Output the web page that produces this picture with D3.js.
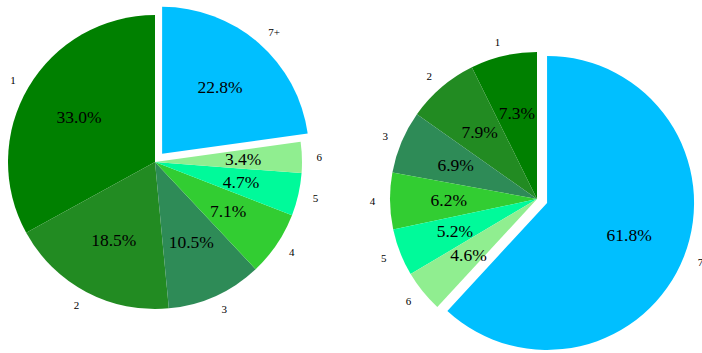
<!DOCTYPE html>
<html>
<head>
<meta charset="utf-8">
<script src="https://cdn.jsdelivr.net/npm/d3@7"></script>
<style>
  html, body { margin: 0; padding: 0; background: #fff; }
  svg { display: block; }
</style>
</head>
<body>
<svg id="chart" width="702" height="353"></svg>
<script>
// Share of households by size (percent)
const leftCategories = ["1", "2", "3", "4", "5", "6", "7+"];
const leftValues = [33.0, 18.5, 10.5, 7.1, 4.7, 3.4, 22.8];
const leftExplode = [0, 0, 0, 0, 0, 0, 1];

const rightCategories = ["1", "2", "3", "4", "5", "6", "7"];
const rightValues = [7.3, 7.9, 6.9, 6.2, 5.2, 4.6, 61.8];
const rightExplode = [0, 0, 0, 0, 0, 0, 1];

const sliceColors = ["#008000", "#228B22", "#2E8B57", "#32CD32", "#00FA9A", "#90EE90", "#00BFFF"];

const svg = d3.select("#chart");
const radius = 147;
const explodeDist = 0.0735 * radius;

function drawPie(cx, cy, categories, values, explode) {
  const color = d3.scaleOrdinal().domain(categories).range(sliceColors);
  // counter-clockwise from twelve o'clock
  const pie = d3.pie().sort(null).value(d => d.v).startAngle(0).endAngle(-2 * Math.PI);
  const data = pie(categories.map((c, i) => ({ c, v: values[i], e: explode[i] })));
  const arc = d3.arc().innerRadius(0).outerRadius(radius);

  const g = svg.append("g").attr("transform", `translate(${cx},${cy})`);

  const slices = g.selectAll("g.slice").data(data).join("g")
    .attr("class", "slice")
    .attr("transform", d => {
      const a = (d.startAngle + d.endAngle) / 2;
      const k = d.data.e * explodeDist;
      return `translate(${k * Math.sin(a)},${-k * Math.cos(a)})`;
    });

  slices.append("path")
    .attr("d", arc)
    .attr("fill", d => color(d.data.c));

  // percentage inside each slice
  slices.append("text")
    .attr("x", d => 0.6 * radius * Math.sin((d.startAngle + d.endAngle) / 2))
    .attr("y", d => -0.6 * radius * Math.cos((d.startAngle + d.endAngle) / 2))
    .attr("text-anchor", "middle")
    .attr("dominant-baseline", "central")
    .attr("font-family", "'Liberation Serif', 'Times New Roman', serif")
    .attr("font-size", 17.5)
    .attr("fill", "#000")
    .text(d => d3.format(".1f")(d.data.v) + "%");

  // category label outside each slice
  slices.append("text")
    .attr("x", d => 1.1 * radius * Math.sin((d.startAngle + d.endAngle) / 2))
    .attr("y", d => -1.1 * radius * Math.cos((d.startAngle + d.endAngle) / 2))
    .attr("text-anchor", d => Math.sin((d.startAngle + d.endAngle) / 2) > 0 ? "start" : "end")
    .attr("dominant-baseline", "central")
    .attr("font-family", "'Liberation Serif', 'Times New Roman', serif")
    .attr("font-size", 11)
    .attr("fill", "#000")
    .text(d => d.data.c);
}

drawPie(155, 162, leftCategories, leftValues, leftExplode);
drawPie(537, 199, rightCategories, rightValues, rightExplode);
</script>
</body>
</html>
